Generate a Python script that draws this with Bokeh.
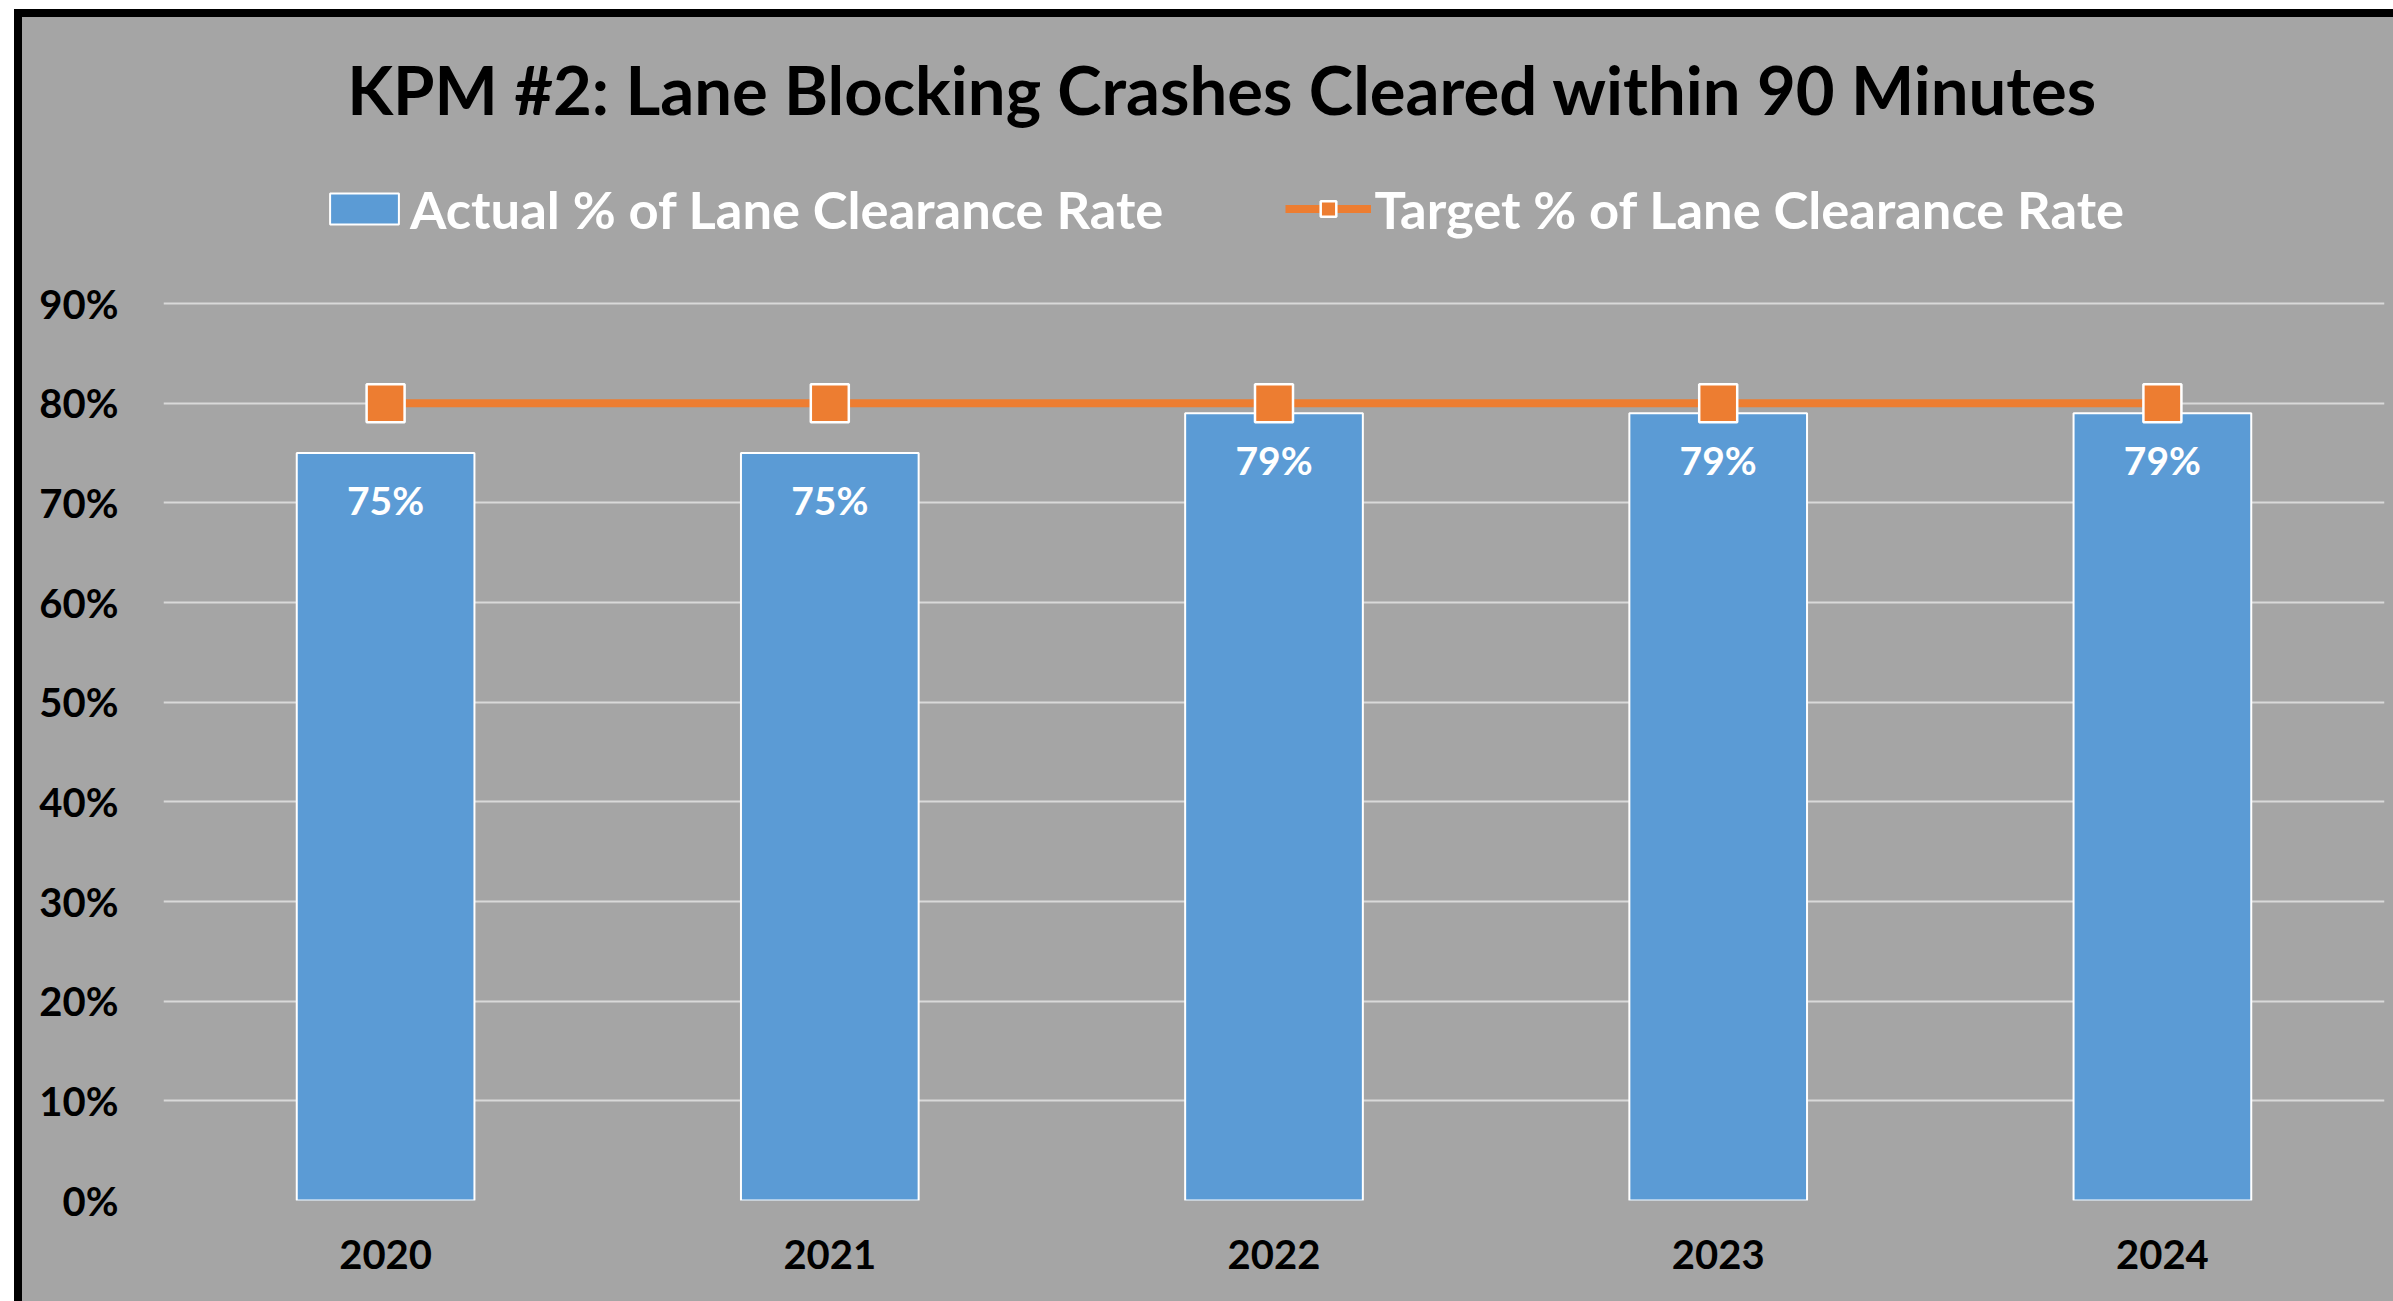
from bokeh.plotting import figure
from bokeh.models import Range1d, FixedTicker, NumeralTickFormatter, Legend, LegendItem, ColumnDataSource, Label
from bokeh.core.properties import value
from bokeh.embed import file_html
from bokeh.resources import INLINE

years = ["2020", "2021", "2022", "2023", "2024"]
actual = [0.75, 0.75, 0.79, 0.79, 0.79]
target = [0.80, 0.80, 0.80, 0.80, 0.80]
y_ticks = [0.0, 0.1, 0.2, 0.3, 0.4, 0.5, 0.6, 0.7, 0.8, 0.9]
title_text = "KPM #2:  Lane Blocking Crashes Cleared within 90 Minutes"
actual_name = "Actual % of Lane Clearance Rate"
target_name = "Target % of Lane Clearance Rate"

BG = "#A5A5A5"
BLUE = "#5B9BD5"
ORANGE = "#ED7D31"
FONT = "Lato"

# layout (canvas pixels)
W, H = 2371, 1284
ML, MR, MB = 141, 9, 101
FRAME_H = H - MB                 # frame spans from canvas top to bottom border
GRID_TOP = 286                   # canvas y of the 90% gridline
px_per_unit = (FRAME_H - GRID_TOP) / 0.9
y_end = 0.9 + GRID_TOP / px_per_unit

src = ColumnDataSource(dict(year=years, actual=actual, target=target,
                            label=[f"{v:.0%}" for v in actual]))

p = figure(x_range=years, y_range=Range1d(0, y_end), width=W, height=H,
           output_backend="svg", toolbar_location=None, title=None,
           min_border_left=ML, min_border_right=MR, min_border_top=0, min_border_bottom=MB,
           background_fill_color=BG, border_fill_color=BG, outline_line_color=None)
p.styles = {"margin-left": "14px", "margin-top": "9px", "background-color": BG,
            "border-top": "8px solid black", "border-left": "8px solid black",
            "box-shadow": f"8px 8px 0 0 {BG}, 0 8px 0 0 black, 8px 0 0 0 black"}

bars = p.vbar(x="year", top="actual", width=0.4, source=src, fill_color=BLUE,
              line_color="white", line_width=2)
ln = p.line(x="year", y="target", source=src, line_color=ORANGE, line_width=8)
mk = p.scatter(x="year", y="target", source=src, marker="square", size=38,
               fill_color=ORANGE, line_color="white", line_width=2.5)

p.text(x="year", y="actual", text="label", source=src, text_align="center",
       text_baseline="middle", y_offset=47, text_color="white",
       text_font=value(FONT), text_font_style="bold", text_font_size="39px")

# chart title
title_x = (1208 - ML) / (W - ML - MR) * len(years)
title_y = 0.9 + (GRID_TOP - 71) / px_per_unit
p.add_layout(Label(x=title_x, y=title_y, text=title_text, text_align="center",
                   text_baseline="alphabetic", text_font=FONT, text_font_size="67px",
                   text_font_style="bold", text_color="black"))

p.yaxis.ticker = FixedTicker(ticks=y_ticks)
p.yaxis.formatter = NumeralTickFormatter(format="0%")
for ax in (p.xaxis[0], p.yaxis[0]):
    ax.axis_line_color = None
    ax.major_tick_line_color = None
    ax.minor_tick_line_color = None
    ax.major_label_text_font = FONT
    ax.major_label_text_font_size = "40px"
    ax.major_label_text_font_style = "bold"
    ax.major_label_text_color = "black"
p.yaxis.major_label_standoff = 39
p.xaxis.major_label_standoff = 33

p.xgrid.grid_line_color = None
p.ygrid.grid_line_color = "#D9D9D9"
p.ygrid.grid_line_width = 2

legend = Legend(items=[LegendItem(label=actual_name, renderers=[bars]),
                       LegendItem(label=target_name, renderers=[ln, mk])],
                orientation="horizontal", location=(158, 960),
                glyph_width=86, glyph_height=39, label_standoff=3, spacing=122,
                label_text_font=FONT, label_text_font_size="52.5px",
                label_text_font_style="bold", label_text_color="white",
                background_fill_alpha=0, border_line_color=None,
                padding=0, margin=0)
p.add_layout(legend, "center")

open("out.html", "w").write(file_html(p, INLINE))
